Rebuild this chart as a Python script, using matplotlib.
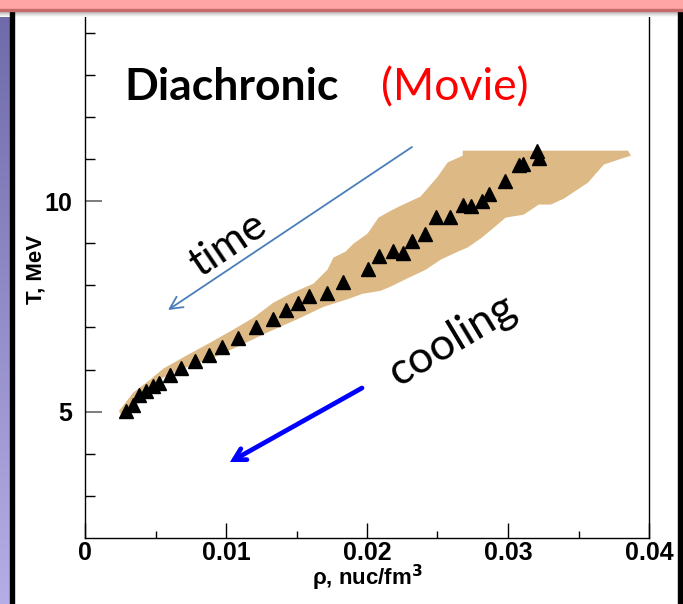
import matplotlib.pyplot as plt
import numpy as np
from matplotlib.patches import Rectangle

# measured points: density (nuc/fm^3) and temperature (MeV)
rho = [0.00291, 0.00339, 0.00386, 0.00433, 0.00485, 0.00528, 0.00604, 0.00682,
       0.00782, 0.00876, 0.00971, 0.01083, 0.01215, 0.01336, 0.01425, 0.01513,
       0.01588, 0.01719, 0.01828, 0.02006, 0.02082, 0.02186, 0.02257, 0.02321,
       0.02411, 0.02490, 0.02588, 0.02683, 0.02740, 0.02813, 0.02865, 0.02977,
       0.03078, 0.03103, 0.03204, 0.03222]
temp = [5.01, 5.17, 5.40, 5.48, 5.60, 5.68, 5.86, 6.04,
        6.20, 6.35, 6.54, 6.75, 7.01, 7.20, 7.42, 7.57,
        7.74, 7.82, 8.09, 8.39, 8.70, 8.82, 8.78, 9.05,
        9.22, 9.62, 9.63, 9.92, 9.89, 10.00, 10.18, 10.47,
        10.86, 10.88, 11.18, 11.02]

# shaded band outline (upper edge left->right, then lower edge right->left)
band_rho = [0.00242, 0.00341, 0.00462, 0.00554, 0.00718, 0.00888, 0.01052, 0.01194,
            0.01336, 0.01456, 0.01620, 0.01719, 0.01762, 0.01847, 0.01904, 0.02004,
            0.02082, 0.02167, 0.02238, 0.02380, 0.02501, 0.02572, 0.02679, 0.02679,
            0.03851, 0.03872,
            0.03822, 0.03680, 0.03567, 0.03396, 0.03304, 0.03218, 0.03112, 0.02984,
            0.02899, 0.02813, 0.02714, 0.02643, 0.02522, 0.02416, 0.02295, 0.02167,
            0.02096, 0.01968, 0.01869, 0.01691, 0.01528, 0.01293, 0.01080, 0.00909,
            0.00675, 0.00554, 0.00440, 0.00341, 0.00249]
band_T = [5.02, 5.45, 5.76, 6.02, 6.33, 6.64, 6.95, 7.23,
          7.59, 7.80, 8.04, 8.37, 8.66, 8.80, 8.99, 9.23,
          9.61, 9.77, 9.89, 10.11, 10.58, 10.92, 11.08, 11.20,
          11.20, 11.08,
          11.03, 10.87, 10.44, 10.06, 9.92, 9.92, 9.68, 9.61,
          9.37, 9.13, 8.90, 8.80, 8.61, 8.37, 8.18, 7.97,
          7.87, 7.80, 7.68, 7.49, 7.23, 6.88, 6.54, 6.28,
          6.00, 5.81, 5.45, 5.05, 4.95]

xticks = [0, 0.01, 0.02, 0.03, 0.04]
xticklabels = ['0', '0.01', '0.02', '0.03', '0.04']
yticks = [5, 10]
yticklabels = ['5', '10']

W, H = 683, 604
fig = plt.figure(figsize=(W / 100, H / 100), dpi=100)
fig.set_facecolor('white')

ax = fig.add_axes([85 / W, 1 - 538 / H, 564 / W, 530.5 / H])
ax.fill(band_rho, band_T, color='#ddb985', lw=0, zorder=1)
ax.plot(rho, temp, '^', color='black', ms=10, zorder=3)

ax.set_xlim(0, 0.04)
ax.set_ylim(2, 14.6)
ax.set_xticks(xticks)
ax.set_xticklabels(xticklabels, fontsize=18, fontweight='bold', family='Liberation Sans')
ax.set_yticks(yticks)
ax.set_yticklabels(yticklabels, fontsize=18, fontweight='bold', family='Liberation Sans')
ax.set_xticks(np.arange(0.005, 0.04, 0.01), minor=True)
ax.set_yticks([y for y in range(3, 15) if y not in yticks], minor=True)
ax.tick_params(axis='x', which='major', direction='in', length=11, width=1, pad=2)
ax.tick_params(axis='x', which='minor', direction='in', length=5, width=1)
ax.tick_params(axis='y', which='major', direction='in', length=12.5, width=1.2,
               color='#666666', pad=9)
ax.tick_params(axis='y', which='minor', direction='in', length=7, width=1)
for s in ['left', 'bottom', 'right']:
    ax.spines[s].set_linewidth(1)
ax.spines['top'].set_visible(False)

fig.text(367 / W, 1 - 578 / H, 'ρ, nuc/fm$^{\\mathbf{3}}$', fontsize=16, fontweight='bold',
         family='Liberation Sans', ha='center', va='center')
fig.text(36 / W, 1 - 269 / H, 'T, MeV', fontsize=16, fontweight='bold',
         family='Liberation Sans', ha='center', va='center', rotation=90)

# slide texts
fig.text(232 / W, 1 - 100 / H, 'Diachronic', fontsize=32, fontweight='bold',
         family='Lato', ha='center', va='baseline')
fig.text(455 / W, 1 - 100 / H, '(Movie)', fontsize=32, color='#ff0000',
         family='Lato', ha='center', va='baseline')
fig.text(228 / W, 1 - 245 / H, 'time', fontsize=31, family='Lato',
         ha='center', va='center', rotation=34, rotation_mode='anchor')
fig.text(452 / W, 1 - 340 / H, 'cooling', fontsize=32, family='Lato',
         ha='center', va='center', rotation=31, rotation_mode='anchor')

# arrows
ax.annotate('', xy=(168 / W, 1 - 310 / H), xytext=(412 / W, 1 - 147 / H),
            xycoords='figure fraction', textcoords='figure fraction',
            arrowprops=dict(arrowstyle='->,head_length=0.9,head_width=0.45',
                            color='#4a7ebb', lw=1.3, shrinkA=0, shrinkB=0))
ax.annotate('', xy=(230 / W, 1 - 462 / H), xytext=(362 / W, 1 - 388 / H),
            xycoords='figure fraction', textcoords='figure fraction',
            arrowprops=dict(arrowstyle='->,head_length=0.8,head_width=0.45',
                            color='#0000ff', lw=3.4, shrinkA=0, shrinkB=0,
                            capstyle='round', joinstyle='miter'))

# slide frame: purple strip, black bars, pink header with shadow
strip = fig.add_axes([0, 0, 10 / W, 1])
grad = np.linspace(0, 1, 256).reshape(-1, 1)
c_top = np.array([0.43, 0.41, 0.66])
c_bot = np.array([0.71, 0.68, 0.90])
strip.imshow(c_top + (c_bot - c_top) * grad[:, :, None] * np.ones((1, 1, 3)),
             aspect='auto', extent=[0, 1, 0, 1])
strip.set_axis_off()

fig.patches.append(Rectangle((10 / W, 0), 4 / W, 1, transform=fig.transFigure,
                             color='black', zorder=5))
fig.patches.append(Rectangle((678 / W, 0), 5 / W, 1, transform=fig.transFigure,
                             color='black', zorder=5))

shadow = fig.add_axes([0, 1 - 17 / H, 1, 7 / H])
sh = np.linspace(0.62, 1.0, 64).reshape(-1, 1)
shadow.imshow(np.repeat(sh[:, :, None], 3, axis=2) * np.ones((1, 1, 3)),
              aspect='auto', extent=[0, 1, 0, 1])
shadow.set_axis_off()

fig.patches.append(Rectangle((0, 1 - 9 / H), 1, 9 / H, transform=fig.transFigure,
                             color='#ffa5a5', zorder=6))
fig.patches.append(Rectangle((0, 1 - 10.5 / H), 1, 1.5 / H, transform=fig.transFigure,
                             color='#c86a6a', zorder=6))

fig.savefig('out.png', dpi=100)
